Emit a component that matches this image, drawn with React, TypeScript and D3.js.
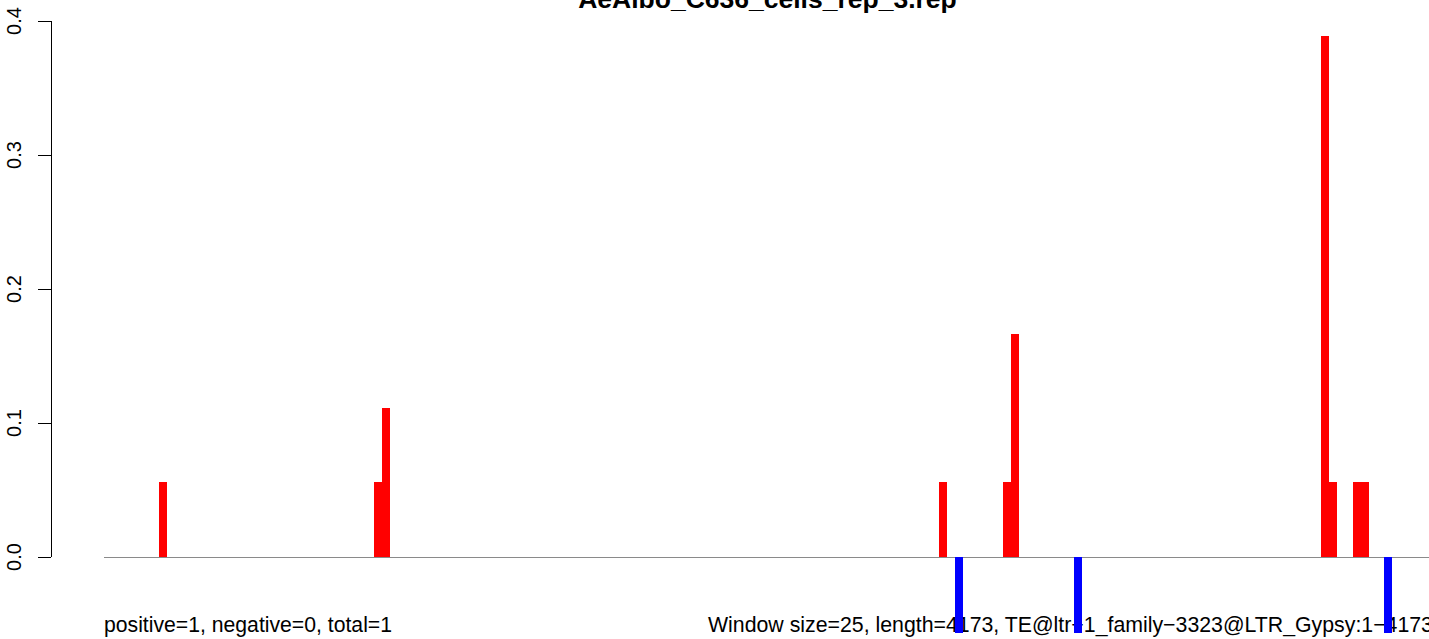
import React from "react";
import * as d3 from "d3";

const title = "AeAlbo_C636_cells_rep_3.rep";
const leftNote = "positive=1, negative=0, total=1";
const rightNote = "Window size=25, length=4173, TE@ltr\u22121_family\u22123323@LTR_Gypsy:1\u22124173";
const windowSize = 25;
const seqLength = 4173;
// window start positions (bp) and signal values
const positions = [175, 860, 885, 2659, 2710, 2863, 2888, 3089, 3876, 3901, 3978, 4003, 4076];
const values = [0.0556, 0.0556, 0.1111, 0.0556, -0.0567, 0.0556, 0.1667, -0.0567, 0.3889, 0.0556, 0.0556, 0.0556, -0.0567];
const yTicks = [0, 0.1, 0.2, 0.3, 0.4];

const W = 1429;
const H = 639;

export default function App() {
  const x = d3.scaleLinear().domain([0, seqLength]).range([104, 104 + seqLength * 0.314]);
  const y = d3.scaleLinear().domain([0, 0.4]).range([557, 21]);
  const bw = x(windowSize) - x(0);
  const font = "'Liberation Sans', Arial, Helvetica, sans-serif";
  return (
    <svg width={W} height={H} style={{ position: "absolute", left: 0, top: 0, background: "#fff" }} fontFamily={font}>
      <rect x={0} y={0} width={W} height={H} fill="#fff" />
      <text x={767.5} y={8} textAnchor="middle" fontWeight="bold" fontSize={26.5} fill="#000">{title}</text>
      {/* y axis */}
      <line x1={51} x2={51} y1={y(0)} y2={y(0.4)} stroke="#000" strokeWidth={1} shapeRendering="crispEdges" />
      {yTicks.map((t) => (
        <g key={t}>
          <line x1={38} x2={51} y1={y(t)} y2={y(t)} stroke="#000" strokeWidth={1} shapeRendering="crispEdges" />
          <text transform={`translate(21,${y(t)}) rotate(-90)`} textAnchor="middle" fontSize={20} fill="#000">{t.toFixed(1)}</text>
        </g>
      ))}
      {/* notes */}
      <text x={104} y={632} fontSize={21.2} fill="#000">{leftNote}</text>
      <text x={708} y={632} fontSize={21.3} fill="#000">{rightNote}</text>
      {/* zero line */}
      <line x1={104} x2={W} y1={y(0)} y2={y(0)} stroke="#8a8a8a" strokeWidth={1} shapeRendering="crispEdges" />
      {/* bars */}
      {positions.map((p, i) => {
        const v = values[i];
        const y0 = y(0);
        const y1 = y(v);
        return (
          <rect
            key={i}
            x={x(p)}
            width={bw}
            y={Math.min(y0, y1)}
            height={Math.abs(y1 - y0)}
            fill={v >= 0 ? "#ff0000" : "#0000ff"}
            shapeRendering="crispEdges"
          />
        );
      })}
    </svg>
  );
}
